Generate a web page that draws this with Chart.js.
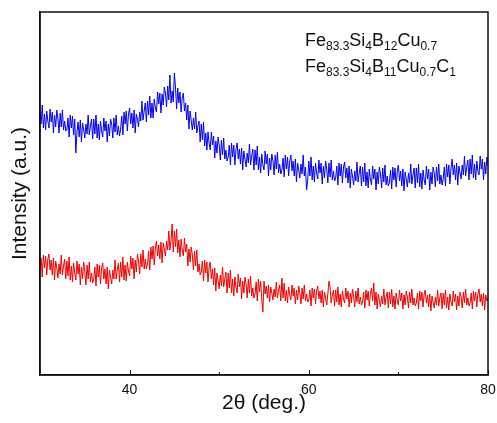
<!DOCTYPE html>
<html lang="en">
<head>
<meta charset="UTF-8">
<title>XRD patterns</title>
<script src="https://cdn.jsdelivr.net/npm/chart.js"></script>
<style>
  body { margin: 0; background: #fff; }
  canvas { display: block; }
</style>
</head>
<body>
<canvas id="xrdChart" width="497" height="423"></canvas>
<script>
// 2theta sampling: 30 to 80 deg, every 0.125 deg
const angleStart = 30;
const angleStep = 0.125;

// Fe83.3Si4B12Cu0.7 (blue, upper trace), one row per degree
const blueCounts = [
  266, 251, 270, 247, 261, 245, 264, 254,
  247, 266, 253, 263, 242, 260, 248, 265,
  256, 242, 262, 248, 265, 245, 254, 244,
  245, 257, 238, 260, 247, 259, 240, 256,
  222, 243, 253, 238, 255, 233, 252, 245,
  237, 251, 241, 260, 240, 249, 256, 236,
  256, 241, 260, 237, 251, 235, 254, 244,
  238, 257, 244, 254, 233, 251, 239, 256,
  251, 237, 257, 243, 260, 240, 249, 239,
  246, 259, 240, 263, 251, 264, 244, 261,
  267, 251, 262, 247, 265, 242, 261, 256,
  248, 263, 254, 274, 255, 264, 272, 253,
  274, 260, 279, 257, 272, 257, 276, 267,
  263, 283, 271, 282, 262, 281, 270, 288,
  282, 268, 289, 275, 300, 272, 284, 273,
  302, 287, 266, 287, 272, 283, 263, 277,
  282, 264, 272, 255, 270, 246, 264, 255,
  245, 257, 246, 263, 242, 249, 254, 233,
  251, 235, 253, 229, 242, 225, 243, 232,
  225, 243, 230, 239, 217, 234, 222, 238,
  230, 215, 235, 220, 237, 216, 225, 214,
  218, 230, 210, 232, 218, 230, 210, 226,
  232, 216, 226, 211, 227, 205, 224, 216,
  208, 222, 212, 231, 210, 219, 226, 205,
  225, 210, 229, 205, 218, 202, 221, 210,
  205, 224, 211, 221, 199, 217, 205, 221,
  214, 200, 220, 206, 223, 202, 211, 201,
  205, 217, 198, 220, 206, 218, 199, 214,
  220, 204, 214, 199, 216, 193, 212, 205,
  197, 211, 201, 220, 199, 208, 185, 195,
  214, 199, 218, 195, 209, 193, 212, 202,
  196, 215, 202, 212, 191, 209, 197, 214,
  206, 192, 212, 198, 215, 195, 204, 194,
  197, 209, 190, 212, 199, 211, 192, 208,
  213, 197, 207, 192, 209, 187, 206, 199,
  190, 204, 194, 213, 193, 202, 209, 189,
  208, 193, 212, 189, 203, 187, 206, 196,
  190, 209, 196, 206, 185, 203, 191, 208,
  201, 187, 207, 193, 210, 190, 199, 189,
  193, 205, 186, 208, 195, 207, 188, 204,
  210, 194, 204, 189, 206, 184, 203, 196,
  188, 202, 192, 211, 191, 200, 207, 187,
  207, 192, 211, 188, 202, 186, 205, 195,
  190, 209, 196, 206, 185, 203, 191, 208,
  202, 188, 208, 194, 211, 191, 200, 190,
  196, 208, 189, 211, 198, 210, 191, 207,
  216, 200, 210, 195, 212, 190, 209, 202,
  196, 210, 200, 219, 199, 208, 215, 195,
  216, 201, 220, 197, 211, 195, 214, 204,
  200, 219, 206, 216, 195, 213, 201, 218,
  209
];

// Fe83.3Si4B11Cu0.7C1 (red, lower trace)
const redCounts = [
  105, 117, 98, 120, 107, 119, 100, 116,
  121, 105, 115, 100, 117, 95, 114, 107,
  97, 111, 101, 120, 100, 109, 116, 96,
  114, 99, 118, 95, 109, 93, 112, 102,
  95, 114, 101, 111, 90, 108, 96, 113,
  104, 90, 110, 96, 113, 93, 102, 92,
  96, 108, 89, 111, 98, 110, 91, 107,
  112, 96, 106, 91, 108, 86, 105, 98,
  91, 105, 96, 115, 96, 105, 112, 93,
  113, 98, 118, 95, 110, 94, 113, 104,
  99, 119, 106, 117, 96, 115, 103, 121,
  114, 101, 121, 108, 125, 106, 116, 106,
  111, 124, 105, 128, 116, 129, 110, 127,
  134, 119, 130, 116, 133, 112, 132, 126,
  119, 134, 125, 144, 125, 135, 151, 123,
  144, 128, 146, 122, 135, 118, 136, 125,
  119, 137, 123, 131, 109, 126, 113, 128,
  120, 105, 124, 109, 125, 103, 111, 100,
  103, 114, 94, 115, 102, 113, 93, 108,
  113, 96, 106, 90, 107, 84, 102, 95,
  86, 100, 89, 108, 88, 96, 103, 82,
  102, 87, 105, 82, 96, 79, 98, 87,
  82, 101, 88, 97, 76, 94, 82, 98,
  91, 77, 96, 82, 99, 79, 87, 77,
  81, 93, 74, 96, 83, 94, 76, 63,
  94, 81, 89, 77, 90, 73, 88, 82,
  75, 86, 78, 93, 77, 85, 90, 74,
  97, 77, 92, 74, 85, 72, 88, 80,
  75, 90, 79, 87, 71, 85, 75, 89,
  82, 71, 87, 76, 90, 74, 81, 73,
  75, 85, 69, 87, 77, 86, 71, 84,
  89, 76, 84, 72, 85, 68, 83, 77,
  70, 81, 94, 88, 72, 80, 85, 69,
  85, 73, 88, 70, 81, 68, 84, 76,
  72, 87, 76, 84, 68, 82, 72, 86,
  79, 68, 84, 73, 87, 71, 78, 70,
  73, 83, 67, 85, 75, 84, 69, 82,
  87, 74, 92, 70, 83, 66, 81, 75,
  68, 79, 71, 86, 70, 78, 83, 67,
  83, 71, 86, 68, 79, 66, 82, 74,
  70, 85, 74, 82, 66, 80, 70, 84,
  78, 67, 83, 72, 86, 70, 77, 69,
  72, 82, 66, 84, 74, 83, 68, 81,
  85, 72, 80, 68, 81, 64, 79, 73,
  67, 78, 70, 85, 69, 77, 82, 66,
  82, 70, 85, 67, 78, 65, 81, 73,
  69, 84, 73, 81, 65, 79, 69, 83,
  78, 67, 83, 72, 86, 70, 77, 69,
  72, 82, 66, 84, 74, 83, 68, 81,
  86, 73, 81, 69, 82, 65, 80, 74,
  77
];

const xTickLabels = [40, 60, 80];
const xTickMarks = [40, 50, 60, 70, 80];

// legend text pieces: [text, isSubscript]
const legendLines = [
  [['Fe', 0], ['83.3', 1], ['Si', 0], ['4', 1], ['B', 0], ['12', 1], ['Cu', 0], ['0.7', 1]],
  [['Fe', 0], ['83.3', 1], ['Si', 0], ['4', 1], ['B', 0], ['11', 1], ['Cu', 0], ['0.7', 1], ['C', 0], ['1', 1]]
];

const FONT = '"Liberation Sans", Arial, sans-serif';
const twoTheta = blueCounts.map((_, i) => angleStart + i * angleStep);

// box around the plot, inward ticks on the bottom axis, formula legend
const frameAndLegend = {
  id: 'frameAndLegend',
  afterDraw(chart) {
    const { ctx, chartArea: a, scales: { x } } = chart;
    ctx.save();
    ctx.strokeStyle = '#111';
    ctx.lineWidth = 1.5;
    ctx.strokeRect(a.left, a.top, a.right - a.left, a.bottom - a.top);

    ctx.lineWidth = 1;
    xTickMarks.forEach(v => {
      const px = Math.round(x.getPixelForValue(v)) + 0.5;
      const len = xTickLabels.includes(v) ? 5 : 3;
      ctx.beginPath();
      ctx.moveTo(px, a.bottom);
      ctx.lineTo(px, a.bottom - len);
      ctx.stroke();
    });

    ctx.fillStyle = '#111';
    ctx.textBaseline = 'alphabetic';
    legendLines.forEach((parts, i) => {
      let cx = 305;
      const base = 46 + i * 26;
      parts.forEach(([t, sub]) => {
        ctx.font = (sub ? '12px ' : '18px ') + FONT;
        ctx.fillText(t, cx, base + (sub ? 4 : 0));
        cx += ctx.measureText(t).width;
      });
    });
    ctx.restore();
  }
};

new Chart(document.getElementById('xrdChart'), {
  type: 'line',
  data: {
    labels: twoTheta,
    datasets: [
      {
        label: 'Fe83.3Si4B12Cu0.7',
        data: blueCounts.map((v, i) => ({ x: twoTheta[i], y: v })),
        borderColor: '#0000ee',
        borderWidth: 1,
        pointRadius: 0,
        tension: 0
      },
      {
        label: 'Fe83.3Si4B11Cu0.7C1',
        data: redCounts.map((v, i) => ({ x: twoTheta[i], y: v })),
        borderColor: '#ee0000',
        borderWidth: 1,
        pointRadius: 0,
        tension: 0
      }
    ]
  },
  options: {
    responsive: false,
    animation: false,
    layout: { padding: { top: 12, right: 9, left: 0, bottom: 0 } },
    plugins: {
      legend: { display: false },
      tooltip: { enabled: false }
    },
    scales: {
      x: {
        type: 'linear',
        min: 30,
        max: 80,
        grid: { display: false, drawTicks: false },
        border: { display: true, color: '#111', width: 1.5 },
        ticks: {
          stepSize: 10,
          padding: 7,
          color: '#111',
          font: { family: FONT, size: 14 },
          maxRotation: 0,
          callback: v => (xTickLabels.includes(v) ? String(v) : '')
        },
        title: {
          display: true,
          text: '2θ (deg.)',
          color: '#111',
          font: { family: FONT, size: 21 },
          padding: { top: 0, bottom: 7 }
        },
        afterFit: s => {
          s.height = 48;
          s.paddingLeft = 0;
          s.paddingRight = 0;
        }
      },
      y: {
        min: 0,
        max: 363,
        grid: { display: false },
        border: { display: true, color: '#111', width: 1.5 },
        ticks: { display: false },
        title: {
          display: true,
          text: 'Intensity (a.u.)',
          color: '#111',
          font: { family: FONT, size: 21 },
          padding: { top: 8, bottom: 0 }
        },
        afterFit: s => { s.width = 40; }
      }
    }
  },
  plugins: [frameAndLegend]
});
</script>
</body>
</html>
